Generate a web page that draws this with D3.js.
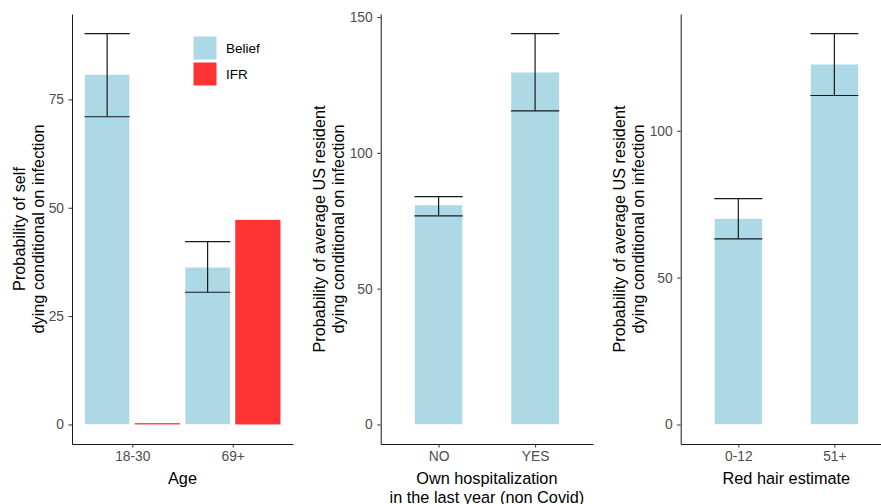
<!DOCTYPE html>
<html>
<head>
<meta charset="utf-8">
<script src="https://cdn.jsdelivr.net/npm/d3@7"></script>
<style>
  body { margin: 0; background: #fff; }
  svg { font-family: "Liberation Sans", Arial, sans-serif; }
  .tick text { fill: #4d4d4d; font-size: 13.8px; }
  .tick line { stroke: #333; }
  .domain { stroke: #1a1a1a; }
</style>
</head>
<body>
<svg id="chart" width="881" height="504"></svg>
<script>
// panel 1: age
const ageCats = ["18-30", "69+"];
const ageBelief = [80.7, 36.3];
const ageBeliefLo = [71.0, 30.5];
const ageBeliefHi = [90.2, 42.2];
const ageIfr = [0.3, 47.2];
const ageTicks = [0, 25, 50, 75];

// panel 2: own hospitalization
const hospCats = ["NO", "YES"];
const hospBelief = [80.8, 129.7];
const hospLo = [76.8, 115.4];
const hospHi = [83.9, 143.9];
const hospTicks = [0, 50, 100, 150];

// panel 3: red hair estimate
const hairCats = ["0-12", "51+"];
const hairBelief = [70.1, 122.7];
const hairLo = [63.2, 112.0];
const hairHi = [76.9, 133.1];
const hairTicks = [0, 50, 100];

const legendKeys = ["Belief", "IFR"];
const blue = "#add8e6";
const red = "#ff3333";

const svg = d3.select("#chart");
const plotTop = 14, plotBottom = 444;

function panel(opts) {
    let g = svg.append("g");
    let maxV = d3.max(opts.maxes);
    let y = d3.scaleLinear()
        .domain([-0.05 * maxV, maxV * 1.05])
        .range([plotBottom, plotTop]);
    let x = d3.scaleLinear().domain([0.4, 2.6]).range([opts.left, opts.right]);
    let bw = opts.barWidth;

    // belief bars
    g.selectAll("rect.belief")
        .data(opts.belief)
        .enter()
        .append("rect")
        .attr("class", "belief")
        .attr("x", (d, i) => x(i + 1 + opts.offset - bw / 2))
        .attr("width", x(bw) - x(0))
        .attr("y", (d) => y(d))
        .attr("height", (d) => y(0) - y(d))
        .attr("fill", blue)
        .attr("stroke", "#fff")
        .attr("stroke-width", 0.6);

    if (opts.ifr) {
        g.selectAll("rect.ifr")
            .data(opts.ifr)
            .enter()
            .append("rect")
            .attr("class", "ifr")
            .attr("x", (d, i) => x(i + 1 + 0.25 - bw / 2))
            .attr("width", x(bw) - x(0))
            .attr("y", (d) => y(d))
            .attr("height", (d) => y(0) - y(d))
            .attr("fill", red);
    }

    // error bars
    let eb = g.selectAll("g.err")
        .data(opts.belief.map((d, i) => ({ lo: opts.lo[i], hi: opts.hi[i], c: i + 1 + opts.offset })))
        .enter()
        .append("g")
        .attr("stroke", "#1a1a1a")
        .attr("stroke-width", 1.2);
    eb.append("line")
        .attr("x1", (d) => x(d.c)).attr("x2", (d) => x(d.c))
        .attr("y1", (d) => y(d.lo)).attr("y2", (d) => y(d.hi));
    ["lo", "hi"].forEach((k) => {
        eb.append("line")
            .attr("x1", (d) => x(d.c - bw / 2)).attr("x2", (d) => x(d.c + bw / 2))
            .attr("y1", (d) => y(d[k])).attr("y2", (d) => y(d[k]));
    });

    // axes
    g.append("g")
        .attr("transform", `translate(${opts.left},0)`)
        .call(d3.axisLeft(y).tickValues(opts.ticks).tickSize(3.5).tickPadding(4.5).tickSizeOuter(0));
    g.append("g")
        .attr("transform", `translate(0,${plotBottom})`)
        .call(d3.axisBottom(x).tickValues([1, 2]).tickFormat((d) => opts.cats[d - 1])
            .tickSize(3.5).tickPadding(4).tickSizeOuter(0));

    // y title
    let yt = g.append("text")
        .attr("transform", `translate(${opts.ytx},229) rotate(-90)`)
        .attr("text-anchor", "middle")
        .attr("font-size", 16.3)
        .attr("fill", "#000");
    opts.ytitle.forEach((t, i) => {
        yt.append("tspan").attr("x", 0).attr("dy", i === 0 ? "-0.5em" : "1.15em").text(t);
    });

    // x title
    let xt = g.append("text")
        .attr("x", (opts.left + opts.right) / 2)
        .attr("y", 484)
        .attr("text-anchor", "middle")
        .attr("font-size", 16.3)
        .attr("fill", "#000");
    opts.xtitle.forEach((t, i) => {
        xt.append("tspan").attr("x", (opts.left + opts.right) / 2).attr("dy", i === 0 ? 0 : 18.5).text(t);
    });
    return g;
}

panel({
    left: 72, right: 293, cats: ageCats, belief: ageBelief, lo: ageBeliefLo, hi: ageBeliefHi,
    ifr: ageIfr, offset: -0.25, barWidth: 0.45, ticks: ageTicks,
    maxes: ageBeliefHi.concat(ageIfr),
    ytx: 33, ytitle: ["Probability of self", "dying conditional on infection"], xtitle: ["Age"]
});

panel({
    left: 380.7, right: 593, cats: hospCats, belief: hospBelief, lo: hospLo, hi: hospHi,
    offset: 0, barWidth: 0.5, ticks: hospTicks, maxes: hospHi,
    ytx: 333, ytitle: ["Probability of average US resident", "dying conditional on infection"],
    xtitle: ["Own hospitalization", "in the last year (non Covid)"]
});

panel({
    left: 680.7, right: 892, cats: hairCats, belief: hairBelief, lo: hairLo, hi: hairHi,
    offset: 0, barWidth: 0.5, ticks: hairTicks, maxes: hairHi,
    ytx: 633, ytitle: ["Probability of average US resident", "dying conditional on infection"],
    xtitle: ["Red hair estimate"]
});

// legend
let legend = svg.append("g").attr("transform", "translate(193,36)");
let items = legend.selectAll("g")
    .data(legendKeys)
    .enter()
    .append("g")
    .attr("transform", (d, i) => `translate(0,${i * 26})`);
items.append("rect")
    .attr("width", 24).attr("height", 24)
    .attr("fill", (d, i) => [blue, red][i])
    .attr("stroke", "#fff").attr("stroke-width", 1);
items.append("text")
    .attr("x", 33).attr("y", 12).attr("dy", "0.35em")
    .attr("font-size", 13.5)
    .text((d) => d);
</script>
</body>
</html>
